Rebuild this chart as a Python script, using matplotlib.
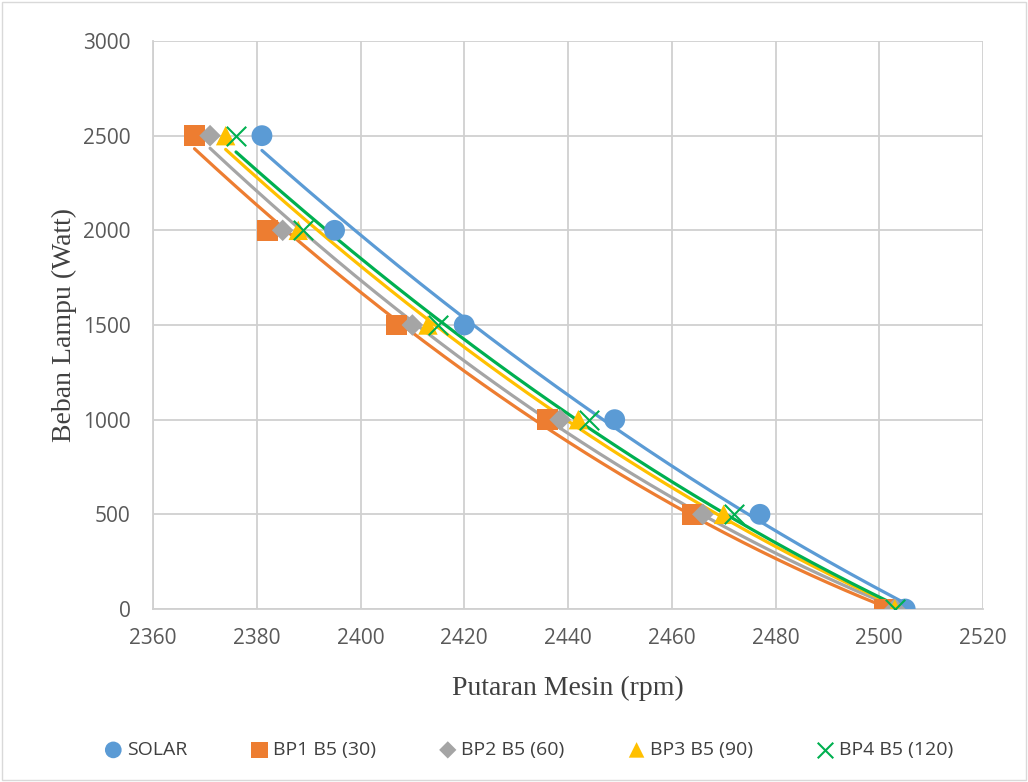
import matplotlib.pyplot as plt
import numpy as np

beban = [2500, 2000, 1500, 1000, 500, 0]
solar = [2381, 2395, 2420, 2449, 2477, 2505]
bp1 = [2368, 2382, 2407, 2436, 2464, 2501]
bp2 = [2371, 2385, 2410, 2438.5, 2466, 2503]
bp3 = [2374, 2388, 2413, 2442, 2470, 2503]
bp4 = [2376, 2389, 2415, 2444, 2472, 2503]
labels = ["SOLAR", "BP1 B5 (30)", "BP2 B5 (60)", "BP3 B5 (90)", "BP4 B5 (120)"]

colors = ["#5B9BD5", "#ED7D31", "#A5A5A5", "#FFC000", "#00B050"]
markers = ["o", "s", "D", "^", "x"]
msizes = [15, 15, 11, 14, 14]

fig = plt.figure(figsize=(10.28, 7.82), dpi=100)
ax = fig.add_axes([153/1028, 1 - 609/782, (983-153)/1028, (609-41)/782])

handles = []
for xs, c, m, s, lab in zip([solar, bp1, bp2, bp3, bp4], colors, markers, msizes, labels):
    xs = np.array(xs, dtype=float)
    ys = np.array(beban, dtype=float)
    # polynomial trendline (order 2), like Excel
    p = np.polyfit(xs, ys, 2)
    xx = np.linspace(xs.min(), xs.max(), 200)
    ax.plot(xx, np.polyval(p, xx), color=c, lw=2.3, zorder=2, solid_capstyle="round")
    if m == "x":
        h = ax.scatter(xs, ys, marker=m, s=s**2, color=c, linewidths=1.5, zorder=3, label=lab)
    else:
        h = ax.scatter(xs, ys, marker=m, s=s**2, color=c, edgecolors="none", zorder=3, label=lab)
    handles.append(h)

ax.set_xlim(2360, 2520)
ax.set_ylim(0, 3000)
ax.set_xticks(np.arange(2360, 2521, 20))
ax.set_yticks(np.arange(0, 3001, 500))
ax.grid(True, color="#D0D0D0", lw=1.3)
ax.set_axisbelow(True)
for sp in ["top", "right"]:
    ax.spines[sp].set_visible(False)
ax.spines["left"].set_color("#D0D0D0")
ax.spines["bottom"].set_color("#D0D0D0")
ax.spines["left"].set_linewidth(1.3)
ax.spines["bottom"].set_linewidth(1.3)
ax.tick_params(length=0, labelsize=15, colors="#595959")
ax.tick_params(axis="y", pad=16)
ax.tick_params(axis="x", pad=14)
for t in ax.get_xticklabels() + ax.get_yticklabels():
    t.set_fontfamily("Open Sans")

ax.set_xlabel("Putaran Mesin (rpm)", fontsize=20, family="Liberation Serif", color="#404040", labelpad=19)
ax.set_ylabel("Beban Lampu (Watt)", fontsize=20, family="Liberation Serif", color="#404040", labelpad=4)

leg = fig.legend(handles=handles, loc="center", bbox_to_anchor=(0.512, 1 - 750/782), ncol=5,
                 frameon=False, prop={"family": "Open Sans", "size": 14}, markerscale=0.8,
                 handletextpad=0.0, handlelength=1.4, columnspacing=3.0)
for t in leg.get_texts():
    t.set_color("#404040")

fig.patches.append(plt.Rectangle((0.002, 0.002), 0.996, 0.996, transform=fig.transFigure,
                                 fill=False, edgecolor="#D9D9D9", lw=1))

fig.savefig("out.png", dpi=100)
